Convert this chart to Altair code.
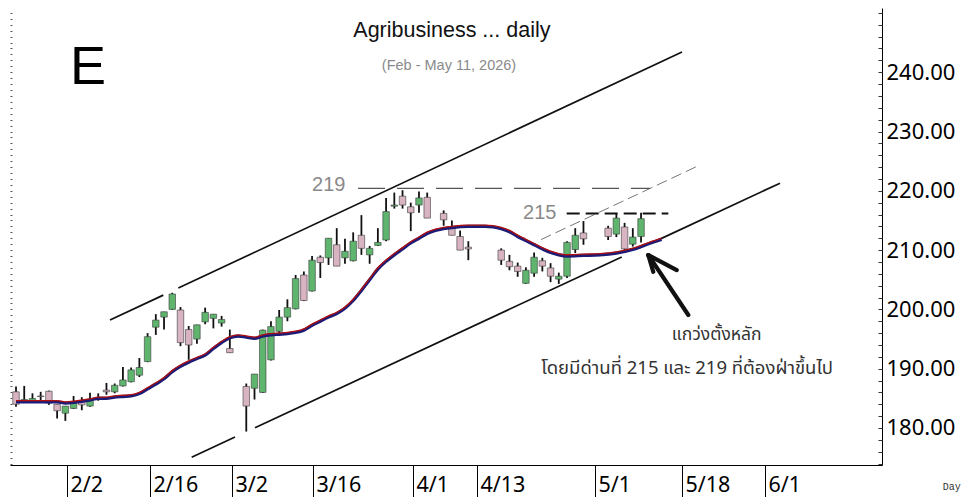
import altair as alt
import pandas as pd

# ---------------- data ----------------
# x = trading-weekday index counted from Fri 23 Jan 2026 (holidays left blank)
day = list(range(0, 27)) + list(range(28, 51)) + list(range(52, 56)) + list(range(59, 70)) + list(range(72, 77))

open_ = [186.1, 184.3, 184.4, 185.4, 186.2, 184.0, 182.5, 183.3, 184.6, 183.7, 184.95, 186.4, 186.1,
         187.1, 187.8, 188.9, 191.2, 197.0, 198.7, 200.0, 199.9, 196.6, 195.0, 197.9, 198.5, 197.7, 193.4,
         187.0, 186.7, 186.0, 191.5, 196.3, 198.7, 200.1, 205.8, 203.1, 208.8, 208.7, 210.9, 208.7, 208.2,
         212.5, 209.2, 210.8, 211.7, 217.4, 219.1, 217.3, 217.6, 218.9,
         216.2, 213.7, 212.3, 210.5,
         210.0, 208.1, 207.3, 204.4, 206.1, 208.2, 207.0, 205.1, 205.6, 210.1, 212.9,
         213.7, 212.7, 213.9, 211.0, 212.3]
high = [187.0, 187.1, 185.85, 186.1, 186.3, 184.0, 183.7, 185.4, 185.2, 185.95, 185.85, 187.6, 187.5,
        190.3, 190.2, 191.8, 196.0, 199.2, 199.6, 202.8, 200.4, 197.2, 197.4, 200.3, 199.2, 198.9, 196.6,
        187.5, 189.1, 196.6, 198.0, 199.9, 201.7, 205.8, 206.4, 209.0, 209.1, 212.0, 213.7, 211.9, 213.0,
        215.9, 210.7, 213.7, 218.8, 219.7, 220.1, 218.0, 219.9, 219.7,
        216.7, 215.0, 213.3, 211.5,
        210.3, 209.2, 207.9, 207.1, 209.6, 208.7, 207.8, 206.2, 211.5, 213.7, 214.9,
        214.1, 216.1, 214.6, 213.7, 216.3]
low = [183.6, 184.2, 184.3, 184.4, 183.9, 181.6, 181.2, 183.2, 183.0, 183.6, 184.6, 185.6, 185.85,
       187.0, 187.7, 188.6, 191.1, 195.7, 196.6, 199.9, 193.8, 191.5, 194.2, 197.5, 196.8, 197.1, 192.7,
       179.4, 184.8, 185.9, 191.4, 196.0, 198.0, 200.0, 201.4, 203.0, 205.3, 207.5, 207.3, 207.7, 208.1,
       209.2, 207.7, 210.7, 211.5, 217.0, 217.0, 213.2, 216.3, 215.4,
       214.1, 212.5, 210.0, 208.3,
       207.5, 206.6, 205.5, 204.3, 205.5, 206.4, 204.6, 204.3, 205.3, 209.5, 210.9,
       211.7, 212.2, 209.8, 210.6, 211.3]
close = [184.0, 184.8, 184.97, 185.3, 184.2, 182.9, 183.7, 184.4, 183.9, 184.7, 185.05, 186.1, 187.2,
         188.1, 189.8, 190.2, 195.4, 198.2, 199.6, 202.6, 194.4, 194.0, 197.4, 199.5, 199.2, 198.3, 192.7,
         183.7, 189.1, 196.5, 197.1, 198.7, 200.3, 205.2, 201.5, 208.3, 207.9, 212.0, 207.3, 209.8, 211.5,
         210.3, 210.3, 211.3, 216.5, 217.6, 217.6, 216.3, 218.8, 215.4,
         215.1, 212.5, 210.0, 210.2,
         208.3, 207.2, 206.4, 206.6, 208.8, 207.3, 205.6, 205.6, 211.3, 212.5, 211.9,
         212.3, 215.4, 210.2, 212.2, 215.3]

ma_day = [0, 5, 6, 7, 8, 9, 10, 11, 12, 13, 14, 15, 16, 17, 18, 19, 20, 21, 22, 23, 24, 25, 26, 27, 28,
          29, 30, 31, 32, 33, 34, 35, 36, 37, 38, 39, 40, 41, 42, 43, 44, 45, 46, 47, 48, 49, 50, 51, 52,
          53, 55, 57, 58, 59, 60, 61, 62, 63, 64, 65, 66, 67, 69, 71, 73, 75, 77, 78.5]
ma_val = [184.4, 184.4, 184.2, 184.3, 184.5, 184.7, 185.0, 185.0, 185.2, 185.3, 185.4, 185.8, 186.6,
          187.4, 188.3, 189.5, 190.4, 191.1, 191.7, 192.3, 193.4, 194.4, 195.2, 195.5, 195.3, 195.1,
          195.5, 195.7, 195.8, 195.9, 196.1, 196.5, 197.3, 198.0, 198.7, 199.3, 200.2, 201.5, 203.2,
          205.0, 206.8, 208.1, 209.2, 210.2, 211.2, 212.0, 212.8, 213.3, 213.6, 213.8, 214.0, 214.0,
          213.9, 213.6, 213.1, 212.3, 211.6, 210.9, 210.2, 209.6, 209.2, 209.0, 209.1, 209.2, 209.5,
          210.1, 211.1, 211.8]

tick_pos = [6.2, 16.29, 26.26, 36.11, 48.27, 56.05, 70.4, 80.98, 91.07]
tick_lab = ["2/2", "2/16", "3/2", "3/16", "4/1", "4/13", "5/1", "5/18", "6/1"]
y_labels = [180, 190, 200, 210, 220, 230, 240]

# drawn trend lines (solid channel, pieces)
chan_k1 = [11.43, 19.74, 21.36, 29.06, 77.91]
chan_p1 = [198.20, 203.60, 175.06, 180.04, 211.60]
chan_k2 = [17.91, 80.98, 26.63, 73.65, 92.90]
chan_p2 = [202.41, 243.42, 178.47, 208.85, 221.29]
# thin dashed middle line
mid_k = [63.84, 83.17]
mid_p = [211.77, 224.36]
# resistance levels
res219_k = [41.59, 77.09]
res219_p = 220.40
res215_k = [66.96, 79.32]
res215_p = 216.18
# arrow (tail->tip, tip->wing, tip->wing)
arr_k1 = [81.75, 76.89, 76.89]
arr_p1 = [199.05, 209.16, 209.16]
arr_k2 = [76.89, 77.49, 80.34]
arr_p2 = [209.16, 206.34, 206.63]

# ---------------- chart ----------------
X_DOMAIN = [-0.73, 105.30]
Y_DOMAIN = [173.76, 250.83]
xs = alt.Scale(domain=X_DOMAIN, nice=False, zero=False, padding=0)
ys = alt.Scale(domain=Y_DOMAIN, nice=False, zero=False, padding=0)

candles = pd.DataFrame({"k": day, "o": open_, "h": high, "l": low, "c": close})
candles["dir"] = ["up" if c >= o else "down" for o, c in zip(open_, close)]
ma = pd.DataFrame({"k": ma_day, "ma": ma_val})
ma["ma_r"] = ma["ma"] + 0.22

mids = [(tick_pos[i] + tick_pos[i + 1]) / 2 for i in range(len(tick_pos) - 1)]
expr = "'" + tick_lab[-1] + "'"
for m, lab in reversed(list(zip(mids, tick_lab[:-1]))):
    expr = f"datum.value < {m:.3f} ? '{lab}' : " + expr

x_axis = alt.Axis(values=tick_pos, labelExpr=expr, tickSize=32, tickColor="black", tickWidth=1,
                  domainColor="black", domainWidth=1, labelAlign="left", labelBaseline="alphabetic",
                  labelPadding=-5.5, labelOffset=3, labelFont="Noto Sans", labelFontSize=21.5,
                  labelColor="black", grid=False, title=None, labelFlush=False, labelOverlap=False)
left_dots = alt.Axis(orient="left", values=list(range(174, 251)), tickSize=2, tickColor="#555",
                     domain=False, labels=False, grid=False, title=None, offset=-2)
right_axis = alt.Axis(orient="right", values=y_labels, format=".2f", ticks=False, domainColor="black",
                      domainWidth=1, labelPadding=4, labelFont="Noto Sans", labelFontSize=22,
                      labelColor="black", grid=False, title=None, labelFlush=False)
inner_ticks = alt.Axis(orient="left", offset=-872, values=list(range(174, 251, 2)), tickSize=4,
                       tickColor="#333", domain=False, labels=False, grid=False, title=None)


def X(field):
    return alt.X(field, scale=xs, axis=x_axis)


base = alt.Chart(candles)

wicks = base.mark_rule(color="#111", strokeWidth=1.8).encode(
    x=X("k:Q"),
    y=alt.Y("l:Q", scale=ys, axis=left_dots),
    y2="h:Q",
)
bodies = base.mark_bar(size=6.5, stroke="#3a3a3a", strokeWidth=0.6).encode(
    x=X("k:Q"),
    y=alt.Y("o:Q", scale=ys, axis=right_axis),
    y2="c:Q",
    color=alt.Color("dir:N", scale=alt.Scale(domain=["up", "down"], range=["#5fb56e", "#d8b3c2"]),
                    legend=None),
)

ma_blue = alt.Chart(ma).mark_line(color="#1c1c78", strokeWidth=3.2, interpolate="monotone").encode(
    x=X("k:Q"),
    y=alt.Y("ma:Q", scale=ys, axis=inner_ticks),
)
ma_red = alt.Chart(ma).mark_line(color="#b01010", strokeWidth=1.3, interpolate="monotone").encode(
    x=X("k:Q"),
    y=alt.Y("ma_r:Q", scale=ys, axis=None),
)


def seg_layer(k1, p1, k2, p2, **mark):
    df = pd.DataFrame({"k1": k1, "p1": p1, "k2": k2, "p2": p2})
    return alt.Chart(df).mark_rule(**mark).encode(
        x=X("k1:Q"), y=alt.Y("p1:Q", scale=ys, axis=None),
        x2="k2:Q", y2="p2:Q")


chan = seg_layer(chan_k1, chan_p1, chan_k2, chan_p2, color="#111", strokeWidth=1.7)
mid = seg_layer([mid_k[0]], [mid_p[0]], [mid_k[1]], [mid_p[1]], color="#777", strokeWidth=1,
                strokeDash=[11, 5])
r219 = seg_layer([res219_k[0]], [res219_p], [res219_k[1]], [res219_p], color="#555", strokeWidth=1.3,
                 strokeDash=[27, 12])
r215 = seg_layer([res215_k[0]], [res215_p], [res215_k[1]], [res215_p], color="#111", strokeWidth=2,
                 strokeDash=[13, 6])
arrow = seg_layer(arr_k1, arr_p1, arr_k2, arr_p2, color="#111", strokeWidth=4.2, strokeCap="round")


def text_layer(txt, k, p, **mark):
    df = pd.DataFrame({"t": [txt], "k": [k], "p": [p]})
    return alt.Chart(df).mark_text(**mark).encode(
        x=X("k:Q"), y=alt.Y("p:Q", scale=ys, axis=None), text="t:N")


texts = [
    text_layer("E", 6.57, 237.98, font="Liberation Sans", fontSize=54, align="left",
               baseline="alphabetic", color="black"),
    text_layer("Agribusiness ... daily", 53.0, 245.95, font="Liberation Sans", fontSize=21.5,
               align="center", baseline="alphabetic", color="#111"),
    text_layer("(Feb - May 11, 2026)", 52.65, 240.42, font="Liberation Sans", fontSize=14.5,
               align="center", baseline="alphabetic", color="#8a8a8a"),
    text_layer("219", 36.0, 220.0, font="Liberation Sans", fontSize=20, align="left",
               baseline="alphabetic", color="#8a8a8a"),
    text_layer("215", 61.65, 215.18, font="Liberation Sans", fontSize=20, align="left",
               baseline="alphabetic", color="#8a8a8a"),
    text_layer("แกว่งตั้งหลัก", 85.2, 194.83, font="Noto Sans Thai, Tahoma, sans-serif", fontSize=17.5,
               align="center", baseline="alphabetic", color="#333"),
    text_layer("โดยมีด่านที่ 215 และ 219 ที่ต้องฝ่าขึ้นไป", 81.6, 189.1,
               font="Noto Sans Thai, Tahoma, sans-serif", fontSize=18.5, align="center",
               baseline="alphabetic", color="#333"),
    text_layer("Day", 112.7, 169.55, font="Liberation Mono", fontSize=10, align="left",
               baseline="alphabetic", color="#333"),
]

chart = alt.layer(
    chan, mid, r219, r215, wicks, bodies, ma_blue, ma_red, arrow, *texts
).resolve_axis(y="independent").properties(
    width=872, height=457,
    autosize=alt.AutoSizeParams(type="none"),
    padding={"left": 2, "top": 0, "right": 82, "bottom": 32},
    background="white",
).configure_view(strokeWidth=0)

chart.save("out.html", embed_options={"renderer": "svg", "actions": False})
